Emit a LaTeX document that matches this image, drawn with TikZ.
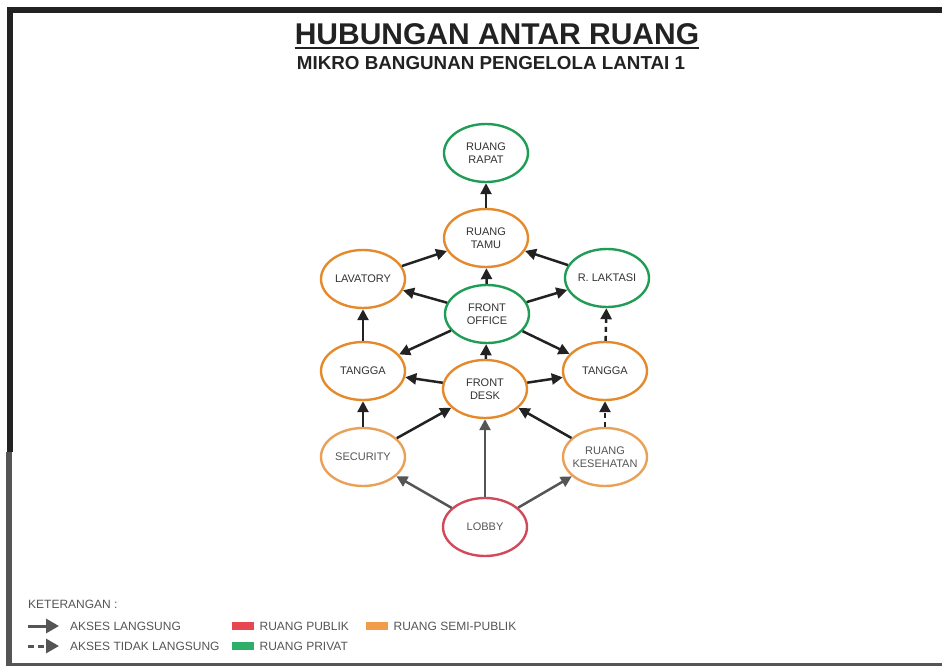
\documentclass[tikz,border=0pt]{standalone}
\usepackage{fontspec}
\setmainfont{Liberation Sans}
\usepackage{xcolor}
\usepackage{tikz}
\usetikzlibrary{shapes.geometric, arrows.meta, positioning}
\definecolor{ink}{HTML}{222222}
\definecolor{greytext}{HTML}{333333}
\definecolor{softtext}{HTML}{555555}
\definecolor{privat}{HTML}{1F9D57}
\definecolor{semi}{HTML}{E48A2C}
\definecolor{semisoft}{HTML}{E9A157}
\definecolor{publik}{HTML}{D04A5C}
\definecolor{keyred}{HTML}{E8474F}
\definecolor{keygreen}{HTML}{2EAF69}
\definecolor{keyorange}{HTML}{F29B4B}
\tikzstyle{room} = [ellipse, line width=2.4pt, fill=white, text=greytext, minimum width=84pt, minimum height=58pt, align=center, font=\fontsize{11}{13.5}\selectfont, inner xsep=-4pt, inner ysep=0pt]
\tikzstyle{privatroom} = [room, draw=privat]
\tikzstyle{semiroom} = [room, draw=semi]
\tikzstyle{softroom} = [room, draw=semisoft, text=softtext]
\tikzstyle{publikroom} = [room, draw=publik, text=softtext]
\tikzstyle{flow} = [line width=2.5pt, -{Triangle[length=11pt,width=11pt]}, color=ink]
\tikzstyle{flowdash} = [flow, dash pattern=on 5pt off 4pt]
\tikzstyle{lobbyflow} = [flow, color=softtext]
\tikzstyle{keytext} = [anchor=west, text=softtext, font=\fontsize{12}{14}\selectfont, inner sep=0pt]
\tikzstyle{keyflow} = [line width=3pt, -{Triangle[length=13pt,width=14pt]}, color=softtext]
\tikzstyle{swatch} = [rectangle, minimum width=22pt, minimum height=8pt, inner sep=0pt, anchor=west]

\begin{document}
\begin{tikzpicture}[x=1pt, y=-1pt]
\useasboundingbox (0,0) rectangle (942,666);
% frame
\fill[ink] (7,7) rectangle (942,13);
\fill[ink] (7,7) rectangle (13,452);
\fill[softtext] (6,452) rectangle (12,666);
\fill[softtext] (6,663) rectangle (942,666);

% title
\node (title) [anchor=base, inner sep=0pt, text=ink, font=\fontsize{30}{32}\selectfont\bfseries] at (497,45) {HUBUNGAN ANTAR RUANG};
\draw[ink, line width=2pt] ([yshift=-3pt]title.base west) -- ([yshift=-3pt]title.base east);
\node (subtitle) [anchor=base, inner sep=0pt, text=ink, font=\fontsize{18.8}{20}\selectfont\bfseries] at (491,70) {MIKRO BANGUNAN PENGELOLA LANTAI 1};

% rooms
\node (rapat) [privatroom] at (486,153) {RUANG\\RAPAT};
\node (tamu) [semiroom] at (486,238) {RUANG\\TAMU};
\node (lavatory) [semiroom] at (363,279) {LAVATORY};
\node (laktasi) [privatroom] at (607,278) {R. LAKTASI};
\node (office) [privatroom] at (487,314) {FRONT\\OFFICE};
\node (tanggaL) [semiroom] at (363,371) {TANGGA};
\node (desk) [semiroom] at (485,389) {FRONT\\DESK};
\node (tanggaR) [semiroom] at (605,371) {TANGGA};
\node (security) [softroom] at (363,457) {SECURITY};
\node (kesehatan) [softroom] at (605,457) {RUANG\\KESEHATAN};
\node (lobby) [publikroom] at (485,527) {LOBBY};

% access
\draw[flow] (tamu) -- (rapat);
\draw[flow] (lavatory) -- (tamu);
\draw[flow] (laktasi) -- (tamu);
\draw[flow] (office) -- (tamu);
\draw[flow] (office) -- (lavatory);
\draw[flow] (office) -- (laktasi);
\draw[flow] (office) -- (tanggaL);
\draw[flow] (office) -- (tanggaR);
\draw[flow] (tanggaL) -- (lavatory);
\draw[flowdash] (tanggaR) -- (laktasi);
\draw[flow] (desk) -- (office);
\draw[flow] (desk) -- (tanggaL);
\draw[flow] (desk) -- (tanggaR);
\draw[flow] (security) -- (tanggaL);
\draw[flow] (security) -- (desk);
\draw[flow] (kesehatan) -- (desk);
\draw[flowdash] (kesehatan) -- (tanggaR);
\draw[lobbyflow] (lobby) -- (security);
\draw[lobbyflow] (lobby) -- (desk);
\draw[lobbyflow] (lobby) -- (kesehatan);

% legend
\node (keyhead) [keytext] at (28,604) {KETERANGAN :};
\coordinate (solidA) at (28,626);
\coordinate (solidB) at (59,626);
\coordinate (dashA) at (28,646);
\coordinate (dashB) at (59,646);
\draw[keyflow] (solidA) -- (solidB);
\draw[keyflow, dash pattern=on 6pt off 3.5pt] (dashA) -- (dashB);
\node (keysolid) [keytext] at (70,626) {AKSES LANGSUNG};
\node (keydash) [keytext] at (70,646) {AKSES TIDAK LANGSUNG};
\node (swred) [swatch, fill=keyred] at (232,626) {};
\node (keypublik) [keytext, right=5pt of swred] {RUANG PUBLIK};
\node (swgreen) [swatch, fill=keygreen] at (232,646) {};
\node (keyprivat) [keytext, right=5pt of swgreen] {RUANG PRIVAT};
\node (sworange) [swatch, fill=keyorange] at (366,626) {};
\node (keysemi) [keytext, right=5pt of sworange] {RUANG SEMI-PUBLIK};
\end{tikzpicture}
\end{document}
